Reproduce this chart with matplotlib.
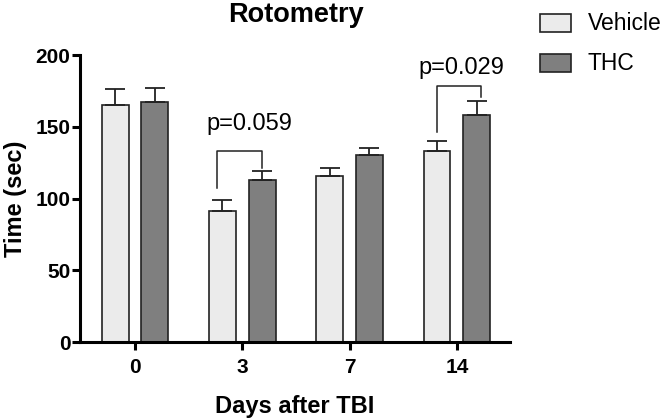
import matplotlib
matplotlib.use("Agg")
import matplotlib.pyplot as plt
import numpy as np
from matplotlib.patches import Rectangle

plt.rcParams['font.family'] = ['Liberation Sans', 'DejaVu Sans']

days = ["0", "3", "7", "14"]
vehicle_mean = [165, 91, 116, 133]
vehicle_err = [11, 8, 5, 7]
thc_mean = [167, 113, 130, 158]
thc_err = [10, 6, 5, 10]

# significance brackets
sig_labels = ["p=0.059", "p=0.029"]
sig_x_left = [0.765, 2.815]
sig_x_right = [1.185, 3.225]
sig_top = [133, 178.5]
sig_left_foot = [107, 146]
sig_right_foot = [121.5, 170.5]
sig_text_x = [1.067, 3.043]
sig_text_y = [147.5, 186.7]

legend_labels = ["Vehicle", "THC"]

fig = plt.figure(figsize=(6.68, 4.19), dpi=100)
ax = fig.add_axes([80/668, 1-342/419, (510-80)/668, (342-55)/419])

x = np.arange(len(days))
off = 0.185
w = 0.25
vcol = '#ebebeb'
tcol = '#7f7f7f'
ekw = dict(elinewidth=1.3, capthick=1.3, ecolor='#222222')
ax.bar(x - off, vehicle_mean, w, color=vcol, edgecolor='#222222', linewidth=1.2,
       yerr=[np.zeros(4), vehicle_err], capsize=7, error_kw=ekw, zorder=2)
ax.bar(x + off, thc_mean, w, color=tcol, edgecolor='#222222', linewidth=1.2,
       yerr=[np.zeros(4), thc_err], capsize=7, error_kw=ekw, zorder=2)

for lab, xl, xr, top, lf, rf, tx, ty in zip(sig_labels, sig_x_left, sig_x_right, sig_top,
                                             sig_left_foot, sig_right_foot, sig_text_x, sig_text_y):
    ax.plot([xl, xl, xr, xr], [lf, top, top, rf], color='#222222', lw=1.1, zorder=3)
    ax.text(tx, ty, lab, ha='center', va='baseline', fontsize=17)

ax.set_xlim(-0.513, 3.495)
ax.set_ylim(0, 200)
ax.set_yticks([0, 50, 100, 150, 200])
ax.set_xticks(x)
ax.set_xticklabels(days)
for s in ['top', 'right']:
    ax.spines[s].set_visible(False)
for s in ['left', 'bottom']:
    ax.spines[s].set_linewidth(2.2)
ax.tick_params(axis='both', width=2.2, length=6, labelsize=15, direction='out', pad=1)
for lab in ax.get_xticklabels() + ax.get_yticklabels():
    lab.set_fontweight('bold')
ax.tick_params(axis='x', pad=5.5)

ax.set_xlabel("Days after TBI", fontsize=17, fontweight='bold', labelpad=13)
ax.set_ylabel("Time (sec)", fontsize=17, fontweight='bold', labelpad=6)
fig.text(296/668, 1-15/419, "Rotometry", ha='center', va='center', fontsize=19.5, fontweight='bold')

# legend
for i, (lab, col) in enumerate(zip(legend_labels, [vcol, tcol])):
    y0 = 14 + 40 * i
    fig.patches.append(Rectangle((540/668, 1-(y0+18)/419), 31/668, 18/419,
                                 transform=fig.transFigure, facecolor=col,
                                 edgecolor='#222222', linewidth=1.2))
    fig.text(588/668, 1-(y0+9)/419, lab, ha='left', va='center', fontsize=16.5)

fig.savefig("out.png", dpi=100)
